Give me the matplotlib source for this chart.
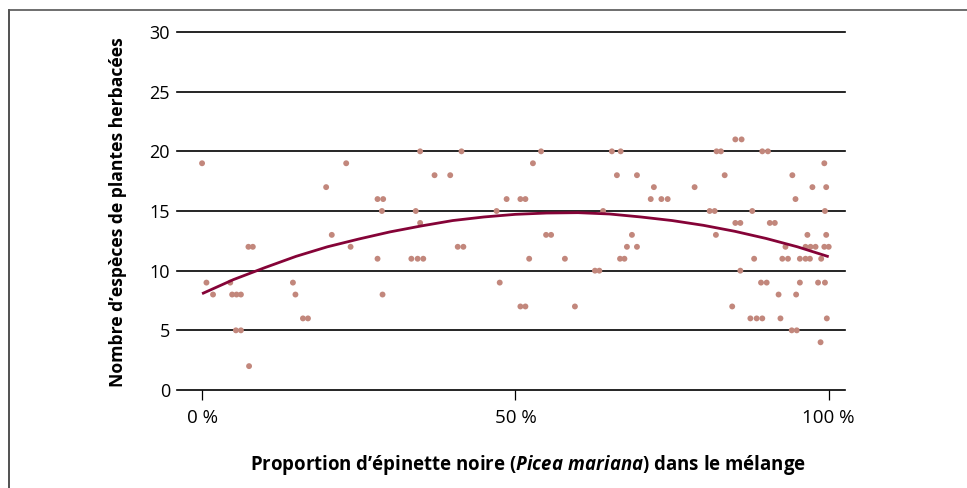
import matplotlib
matplotlib.use("Agg")
import matplotlib.pyplot as plt
from matplotlib.lines import Line2D

# ---------------- data ----------------
prop_x = [0.0, 0.7, 1.75, 4.5, 4.8, 5.4, 5.5, 6.2, 6.2, 7.4, 7.5, 8.1, 14.5, 14.9, 16.1, 16.9,
          19.8, 20.7, 23.0, 23.7, 28.0, 28.0, 28.7, 28.8, 28.9, 33.4, 34.1, 34.4, 34.8, 34.8,
          35.3, 37.1, 39.6, 40.8, 41.4, 41.7, 47.0, 47.5, 48.6, 50.8, 50.8, 51.6, 51.6, 52.2,
          52.8, 54.1, 54.9, 55.7, 57.9, 59.5, 62.7, 63.4, 64.0, 65.4, 66.2, 66.7, 66.8, 67.4,
          67.8, 68.6, 69.4, 69.4, 71.6, 72.1, 73.3, 74.3, 78.6, 81.0, 81.8, 82.0, 82.1, 82.8,
          83.4, 84.6, 85.1, 85.1, 85.9, 85.9, 86.1, 87.5, 87.8, 88.1, 88.5, 89.2, 89.4, 89.4,
          90.1, 90.3, 90.6, 91.4, 92.0, 92.3, 92.6, 93.1, 93.5, 94.1, 94.2, 94.7, 94.8, 94.9,
          95.4, 95.4, 96.3, 96.3, 96.6, 97.0, 97.1, 97.4, 97.9, 98.3, 98.7, 98.8, 99.3, 99.3,
          99.4, 99.4, 99.6, 99.6, 99.7, 100.0]
species_y = [19, 9, 8, 9, 8, 5, 8, 8, 5, 12, 2, 12, 9, 8, 6, 6,
             17, 13, 19, 12, 16, 11, 15, 8, 16, 11, 15, 11, 20, 14,
             11, 18, 18, 12, 20, 12, 15, 9, 16, 16, 7, 16, 7, 11,
             19, 20, 13, 13, 11, 7, 10, 10, 15, 20, 18, 11, 20, 11,
             12, 13, 18, 12, 16, 17, 16, 16, 17, 15, 15, 13, 20, 20,
             18, 7, 21, 14, 14, 10, 21, 6, 15, 11, 6, 9, 20, 6,
             9, 20, 14, 14, 8, 6, 11, 12, 11, 5, 18, 16, 8, 5,
             11, 9, 12, 11, 13, 11, 12, 17, 12, 9, 4, 11, 19, 12,
             15, 9, 17, 13, 6, 12]

# courbe de tendance (tous les 5 %)
curve_x = [0, 5, 10, 15, 20, 25, 30, 35, 40, 45, 50, 55, 60, 65, 70, 75, 80, 85, 90, 95, 100]
curve_y = [8.07, 9.25, 10.25, 11.2, 12.0, 12.65, 13.25, 13.75, 14.2, 14.5, 14.72, 14.83,
           14.86, 14.75, 14.5, 14.2, 13.8, 13.3, 12.7, 12.0, 11.17]

y_ticks = [0, 5, 10, 15, 20, 25, 30]
x_ticks = [0, 50, 100]
x_tick_labels = ["0 %", "50 %", "100 %"]

FONT = ["Open Sans", "DejaVu Sans"]
plt.rcParams["font.family"] = FONT
plt.rcParams["mathtext.fontset"] = "custom"
plt.rcParams["mathtext.rm"] = "Open Sans:bold"
plt.rcParams["mathtext.it"] = "Open Sans:italic:bold"

W, H = 967, 488
fig = plt.figure(figsize=(W / 100, H / 100), dpi=100)
ax = fig.add_axes([177 / W, 1 - 390 / H, (845 - 177) / W, (390 - 32) / H])

# grille horizontale
for t in y_ticks[1:]:
    ax.axhline(t, color="black", lw=1.2, zorder=1, clip_on=False)

ax.scatter(prop_x, species_y, s=18, color="#c2877c", edgecolors="none", zorder=2)
ax.plot(curve_x, curve_y, color="#850337", lw=2.0, zorder=3,
        solid_capstyle="butt", solid_joinstyle="round")

ax.set_xlim(-4, 102.6)
ax.set_ylim(0, 30)
ax.set_yticks(y_ticks)
ax.set_xticks(x_ticks)
ax.set_xticklabels(x_tick_labels)
for s in ["top", "right", "left"]:
    ax.spines[s].set_visible(False)
ax.spines["bottom"].set_linewidth(1.2)
ax.tick_params(axis="y", length=0, pad=5, labelsize=13, colors="black")
ax.tick_params(axis="x", length=7, width=0.9, pad=7, labelsize=13.5)

fig.text(118 / W, 1 - 212 / H, "Nombre d\u2019esp\u00e8ces de plantes herbac\u00e9es",
         rotation=90, ha="center", va="center", fontsize=12.6, fontweight="bold")
fig.text(528 / W, 1 - 465 / H,
         "Proportion d\u2019\u00e9pinette noire ($\\mathit{Picea\\ mariana}$) dans le m\u00e9lange",
         ha="center", va="center", fontsize=13.4, fontweight="bold")

# cadre de la figure
fx, fy = 8.5 / W, 1 - 9.5 / H
fig.add_artist(Line2D([fx, fx], [0, fy], transform=fig.transFigure, color="#333333", lw=1.2))
fig.add_artist(Line2D([fx, 1], [fy, fy], transform=fig.transFigure, color="#555555", lw=1.2))

fig.savefig("out.png", dpi=100)
